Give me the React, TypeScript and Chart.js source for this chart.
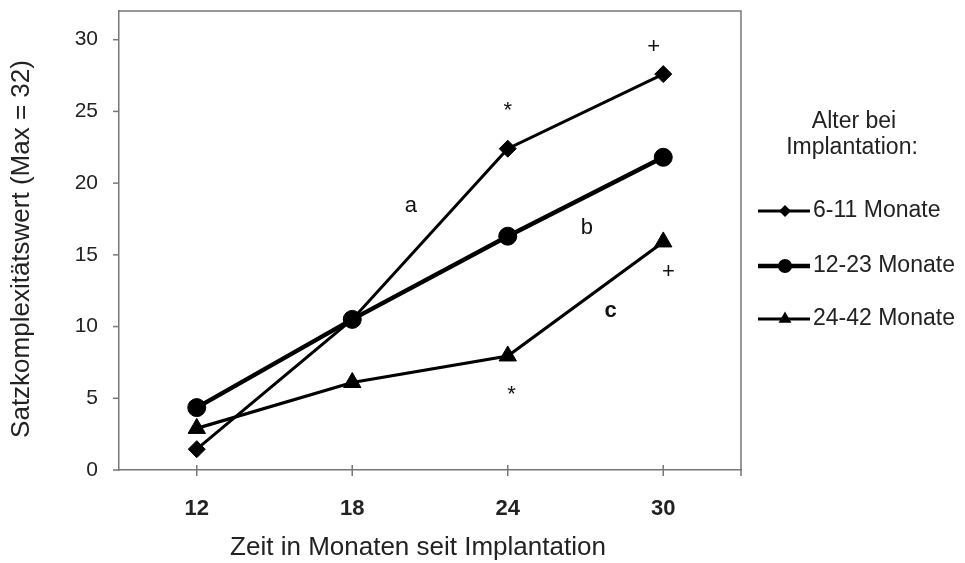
import React, { useEffect, useRef } from "react";
import { Chart, registerables } from "chart.js";

Chart.register(...registerables);

const months = [12, 18, 24, 30];
const seriesNames = ["6-11 Monate", "12-23 Monate", "24-42 Monate"];
const group6to11 = [1.45, 10.5, 22.4, 27.6];
const group12to23 = [4.35, 10.5, 16.3, 21.8];
const group24to42 = [2.9, 6.1, 7.95, 15.9];
const yTicks = [0, 5, 10, 15, 20, 25, 30];
const xTitle = "Zeit in Monaten seit Implantation";
const yTitle = "Satzkomplexitätswert (Max = 32)";
const legendTitle = ["Alter bei", "Implantation:"];
const noteLabels = ["a", "b", "c", "*", "*", "+", "+"];
const noteX = [20.26, 27.05, 27.97, 24.0, 24.15, 29.63, 30.2];
const noteY = [18.4, 16.9, 11.1, 25.0, 5.2, 29.5, 13.8];

const FONT = "Arial, 'Liberation Sans', sans-serif";
const AXIS = "#777";

const styles = [
  { shape: "rectRot", radius: 8.5, width: 3, legendRadius: 6 },
  { shape: "circle", radius: 9, width: 4.5, legendRadius: 7 },
  { shape: "triangle", radius: 10, width: 3.2, legendRadius: 7.5 },
];

function drawMarker(ctx: CanvasRenderingContext2D, shape: string, x: number, y: number, r: number) {
  ctx.beginPath();
  if (shape === "circle") {
    ctx.arc(x, y, r, 0, Math.PI * 2);
  } else if (shape === "rectRot") {
    ctx.moveTo(x - r, y);
    ctx.lineTo(x, y - r);
    ctx.lineTo(x + r, y);
    ctx.lineTo(x, y + r);
    ctx.closePath();
  } else {
    ctx.moveTo(x, y - r);
    ctx.lineTo(x + r * 0.866, y + r * 0.5);
    ctx.lineTo(x - r * 0.866, y + r * 0.5);
    ctx.closePath();
  }
  ctx.fill();
}

const decorPlugin = {
  id: "decor",
  afterDraw(chart: any) {
    const ctx = chart.ctx;
    const { left, right, top, bottom } = chart.chartArea;
    const xs = chart.scales.x;
    const ys = chart.scales.y;
    ctx.save();
    ctx.strokeStyle = AXIS;
    ctx.lineWidth = 1.5;
    ctx.beginPath();
    ctx.moveTo(left, top);
    ctx.lineTo(right, top);
    ctx.lineTo(right, bottom + 6);
    ctx.stroke();
    yTicks.forEach((v) => {
      const y = ys.getPixelForValue(v);
      ctx.beginPath();
      ctx.moveTo(left - 6, y);
      ctx.lineTo(left, y);
      ctx.stroke();
    });
    months.forEach((m) => {
      const x = xs.getPixelForValue(m);
      ctx.beginPath();
      ctx.moveTo(x, bottom - 5);
      ctx.lineTo(x, bottom + 6);
      ctx.stroke();
    });
    ctx.fillStyle = "#111";
    ctx.textAlign = "center";
    ctx.textBaseline = "middle";
    noteLabels.forEach((t, i) => {
      ctx.font = (t === "c" ? "bold " : "") + "22px " + FONT;
      ctx.fillText(t, xs.getPixelForValue(noteX[i]), ys.getPixelForValue(noteY[i]));
    });
    ctx.fillStyle = "#222";
    ctx.font = "26px " + FONT;
    ctx.fillText(xTitle, 418, 548);
    ctx.save();
    ctx.translate(22, 249);
    ctx.rotate(-Math.PI / 2);
    ctx.fillText(yTitle, 0, 0);
    ctx.restore();
    ctx.font = "23px " + FONT;
    ctx.fillStyle = "#222";
    ctx.fillText(legendTitle[0], 854, 122);
    ctx.fillText(legendTitle[1], 852, 148);
    const rows = [211, 266, 319];
    seriesNames.forEach((name, i) => {
      const y = rows[i];
      const s = styles[i];
      ctx.strokeStyle = "#000";
      ctx.lineWidth = s.width;
      ctx.beginPath();
      ctx.moveTo(758, y);
      ctx.lineTo(810, y);
      ctx.stroke();
      ctx.fillStyle = "#000";
      drawMarker(ctx, s.shape, 785, y, s.legendRadius);
      ctx.fillStyle = "#222";
      ctx.textAlign = "left";
      ctx.fillText(name, 813, y);
    });
    ctx.restore();
  },
};

export default function App() {
  const ref = useRef<HTMLCanvasElement>(null);
  useEffect(() => {
    if (!ref.current) return;
    const allSeries = [group6to11, group12to23, group24to42];
    const chart = new Chart(ref.current, {
      type: "line",
      data: {
        datasets: allSeries.map((vals, i) => ({
          label: seriesNames[i],
          data: vals.map((v, j) => ({ x: months[j], y: v })),
          borderColor: "#000",
          backgroundColor: "#000",
          borderWidth: styles[i].width,
          pointStyle: styles[i].shape as any,
          pointRadius: styles[i].radius,
          pointBorderWidth: 1,
          pointBackgroundColor: "#000",
          pointBorderColor: "#000",
          tension: 0,
        })),
      },
      options: {
        animation: false,
        responsive: true,
        maintainAspectRatio: false,
        layout: { padding: { left: 0, top: 10, right: 224, bottom: 0 } },
        plugins: { legend: { display: false }, tooltip: { enabled: false } },
        scales: {
          x: {
            type: "linear",
            min: 9,
            max: 33,
            afterBuildTicks: (s: any) => {
              s.ticks = months.map((v) => ({ value: v }));
            },
            afterFit: (s: any) => {
              s.height = 93;
            },
            grid: { display: false, drawTicks: false },
            border: { display: true, color: AXIS, width: 1.5 },
            ticks: {
              padding: 26,
              color: "#222",
              font: { family: FONT, size: 22, weight: "bold" },
            },
          },
          y: {
            min: 0,
            max: 32,
            afterBuildTicks: (s: any) => {
              s.ticks = yTicks.map((v) => ({ value: v }));
            },
            afterFit: (s: any) => {
              s.width = 119;
            },
            grid: {
              display: true,
              drawOnChartArea: false,
              drawTicks: true,
              tickLength: 21,
              color: "rgba(0,0,0,0)",
            },
            border: { display: true, color: AXIS, width: 1.5 },
            ticks: {
              padding: 0,
              color: "#222",
              font: { family: FONT, size: 21, lineHeight: 0.9 },
            },
          },
        },
      },
      plugins: [decorPlugin],
    });
    return () => chart.destroy();
  }, []);
  return (
    <div style={{ position: "fixed", left: 0, top: 0, width: 965, height: 563, background: "#fff" }}>
      <canvas ref={ref} />
    </div>
  );
}
